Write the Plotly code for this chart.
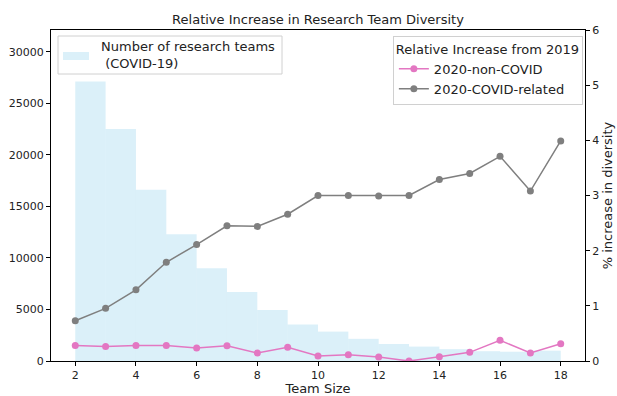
import plotly.graph_objects as go

# Histogram of COVID-19 research teams by team size (bins of width 1, left edges)
bin_left = list(range(2, 18))
team_counts = [27100, 22500, 16600, 12300, 9000, 6700, 4950, 3550,
               2850, 2150, 1650, 1400, 1150, 950, 900, 1000]

# Relative increase in diversity from 2019 (%)
team_size = list(range(2, 19))
non_covid = [0.28, 0.265, 0.28, 0.28, 0.236, 0.277, 0.145, 0.248, 0.09,
             0.115, 0.072, 0.0, 0.078, 0.157, 0.375, 0.145, 0.314]
covid_related = [0.73, 0.955, 1.29, 1.79, 2.11, 2.45, 2.44, 2.66, 3.0,
                 3.0, 2.99, 3.0, 3.29, 3.40, 3.71, 3.08, 3.99]

left_ticks = [0, 5000, 10000, 15000, 20000, 25000, 30000]
x_ticks = list(range(2, 19, 2))

font_family = "DejaVu Sans, sans-serif"
bar_color = "rgba(135,206,235,0.3)"

# plot-area geometry in pixels (used to place the histogram legend box)
W, H = 617, 396
ML, MR, MT, MB = 51, 32, 30, 35
PW, PH = W - ML - MR, H - MT - MB


def px(x):
    return (x - ML) / PW


def py(y):
    return 1 - (y - MT) / PH


fig = go.Figure()

fig.add_trace(go.Bar(
    x=bin_left, y=team_counts, width=1, offset=0,
    marker=dict(color=bar_color, line=dict(width=0)),
    name="Number of research teams (COVID-19)",
    showlegend=False, yaxis="y",
))

fig.add_trace(go.Scatter(
    x=team_size, y=non_covid, mode="lines+markers",
    line=dict(color="#e377c2", width=1.5),
    marker=dict(color="#e377c2", size=7),
    name="2020-non-COVID", legend="legend", yaxis="y2",
))

fig.add_trace(go.Scatter(
    x=team_size, y=covid_related, mode="lines+markers",
    line=dict(color="#7f7f7f", width=1.5),
    marker=dict(color="#7f7f7f", size=7),
    name="2020-COVID-related", legend="legend", yaxis="y2",
))

axis_common = dict(
    showline=True, linecolor="black", linewidth=1,
    ticks="outside", ticklen=4, tickwidth=1, tickcolor="black",
    showgrid=False, zeroline=False, automargin=False,
    tickfont=dict(size=11, color="#222", family=font_family),
)

# Histogram legend: framed box with a wide swatch and a two-line label
shapes = [
    dict(type="rect", xref="paper", yref="paper",
         x0=px(58), x1=px(282), y0=py(74), y1=py(36),
         line=dict(color="#d0d0d0", width=1),
         fillcolor="rgba(255,255,255,0.8)", layer="above"),
    dict(type="rect", xref="paper", yref="paper",
         x0=px(63), x1=px(89), y0=py(60), y1=py(52),
         line=dict(width=0), fillcolor=bar_color, layer="above"),
]
annotations = [
    dict(text="Number of research teams<br>\u00a0(COVID-19)",
         xref="paper", yref="paper", x=px(99), y=py(55),
         xanchor="left", yanchor="middle", align="left",
         showarrow=False, font=dict(size=13, color="#222")),
]

fig.update_layout(
    width=W, height=H,
    margin=dict(l=ML, r=MR, t=MT, b=MB),
    paper_bgcolor="white", plot_bgcolor="white",
    font=dict(family=font_family, color="#222", size=13),
    title=dict(text="Relative Increase in Research Team Diversity",
               x=0.5, xref="paper", xanchor="center",
               y=1, yref="paper", yanchor="bottom", pad=dict(b=6),
               font=dict(size=13, color="#222")),
    xaxis=dict(range=[1.2, 18.8], tickvals=x_ticks, mirror=True,
               title=dict(text="Team Size", standoff=2,
                          font=dict(size=13)),
               **axis_common),
    yaxis=dict(range=[0, 32100], tickvals=left_ticks,
               ticktext=[str(v) for v in left_ticks], **axis_common),
    yaxis2=dict(range=[0, 6], dtick=1, overlaying="y", side="right",
                title=dict(text="% increase in diversity", standoff=4,
                           font=dict(size=13)),
                **axis_common),
    legend=dict(x=0.996, y=0.982, xanchor="right", yanchor="top",
                bgcolor="rgba(255,255,255,0.8)", bordercolor="#d0d0d0",
                borderwidth=1, font=dict(size=13), tracegroupgap=0,
                title=dict(text="Relative Increase from 2019",
                           side="top", font=dict(size=13))),
    showlegend=True,
    shapes=shapes,
    annotations=annotations,
)

fig.write_html("out.html")
